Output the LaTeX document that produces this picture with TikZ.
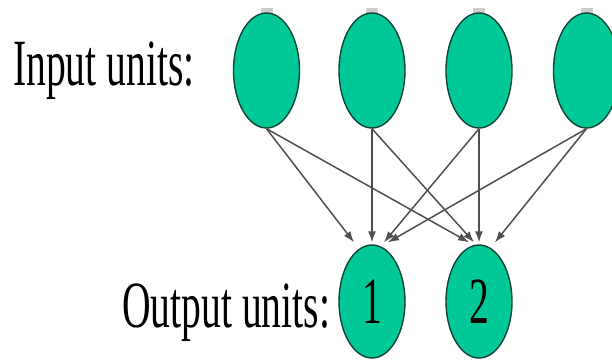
\documentclass[tikz,border=0pt]{standalone}
\usepackage{fontspec}
\setmainfont{Liberation Serif}
\usetikzlibrary{arrows.meta,shapes.geometric,calc}
\definecolor{unitfill}{RGB}{0,200,150}
\definecolor{unitedge}{RGB}{15,70,55}
\definecolor{wire}{RGB}{80,80,80}
\definecolor{tabgray}{RGB}{205,205,205}
\begin{document}
\begin{tikzpicture}[x=1pt,y=-1pt,
  unit/.style={ellipse,draw=unitedge,line width=1.4pt,fill=unitfill,
    minimum width=66pt,minimum height=115pt,inner sep=0pt,
    font=\fontsize{66}{70}\selectfont},
  lbl/.style={inner sep=0pt,font=\fontsize{66}{70}\selectfont},
  wirearrow/.style={draw=wire,line width=1.5pt,-{Latex[length=11pt,width=8pt]}},
  tabmark/.style={fill=tabgray,draw=none}]
\useasboundingbox (0,0) rectangle (612,360);
\clip (0,0) rectangle (612,360);
% small tabs on top of the input units
\foreach \x in {266.5,372,479,586.5}
  \fill[tabmark] (\x-6,8) rectangle (\x+6,14);
% input units
\node[unit] (i1) at (266.5,70.5) {};
\node[unit] (i2) at (372,70.5) {};
\node[unit] (i3) at (479,70.5) {};
\node[unit] (i4) at (586.5,70.5) {};
% output units
\node[unit,minimum height=113pt] (o1) at (372,301.5) {\scalebox{0.6}[1]{1}};
\node[unit,minimum height=113pt] (o2) at (479,301.5) {\scalebox{0.6}[1]{2}};
% labels
\node[lbl,anchor=base west] (tin) at (13,85) {\scalebox{0.6}[1]{Input units:}};
\node[lbl,anchor=base west] (tout) at (122,327) {\scalebox{0.6}[1]{Output units:}};
% connections
\draw[wirearrow] (i1.south) -- ($(o1.north)+(-18,-2)$);
\draw[wirearrow] (i2.south) -- ($(o1.north)+(0,-2)$);
\draw[wirearrow] (i3.south) -- ($(o1.north)+(12,-2)$);
\draw[wirearrow] (i4.south) -- ($(o1.north)+(16,-2)$);
\draw[wirearrow] (i1.south) -- ($(o2.north)+(-10,-2)$);
\draw[wirearrow] (i2.south) -- ($(o2.north)+(-5,-2)$);
\draw[wirearrow] (i3.south) -- ($(o2.north)+(0,-2)$);
\draw[wirearrow] (i4.south) -- ($(o2.north)+(16,-2)$);
\end{tikzpicture}
\end{document}
